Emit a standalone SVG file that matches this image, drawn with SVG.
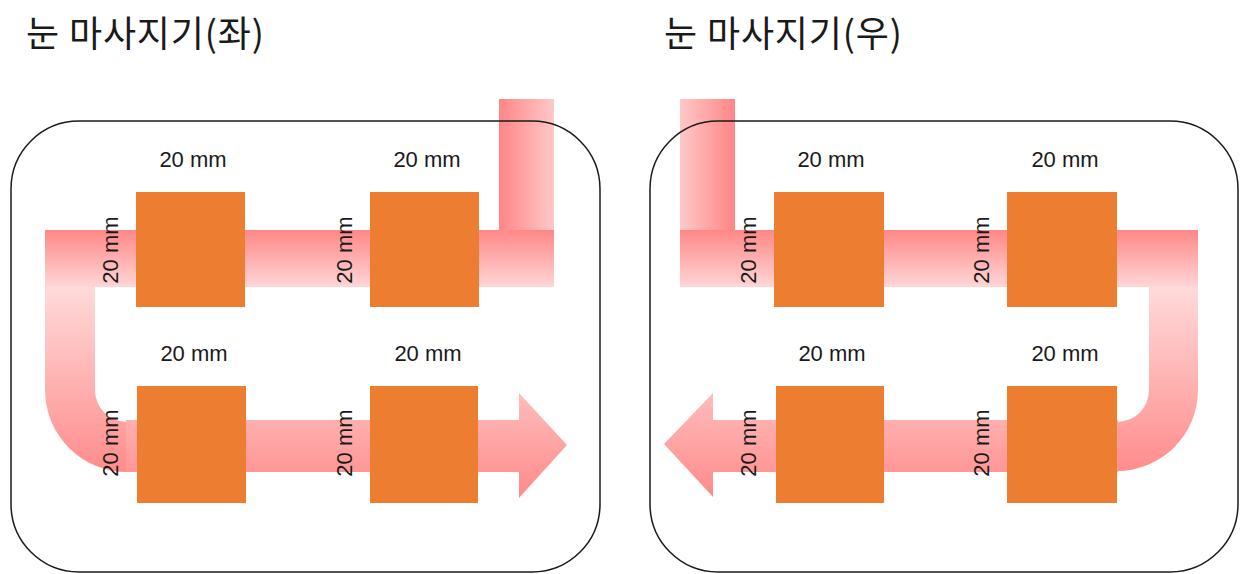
<svg xmlns="http://www.w3.org/2000/svg" width="1241" height="574" viewBox="0 0 1241 574">
  <defs>
    <style>
      .title { font-family: "Noto Sans CJK KR", "Noto Sans", sans-serif; font-size: 36px; fill: #1a1a1a; }
      .lbl { font-family: "Liberation Sans", Arial, sans-serif; font-size: 22px; fill: #1a1a1a; text-anchor: middle; }
      .sq { fill: #ed7d31; }
      .frame { fill: none; stroke: #1a1a1a; stroke-width: 1.5; }
    </style>
    <linearGradient id="gBandTop" x1="0" y1="0" x2="0" y2="1">
      <stop offset="0" stop-color="#ff8787"/>
      <stop offset="1" stop-color="#ffd6d6"/>
    </linearGradient>
    <linearGradient id="gPipeL" x1="0" y1="0" x2="1" y2="0">
      <stop offset="0" stop-color="#ff8585"/>
      <stop offset="1" stop-color="#ffc8c8"/>
    </linearGradient>
    <linearGradient id="gPipeR" x1="0" y1="0" x2="1" y2="0">
      <stop offset="0" stop-color="#ffc8c8"/>
      <stop offset="1" stop-color="#ff8585"/>
    </linearGradient>
    <linearGradient id="gBend" gradientUnits="userSpaceOnUse" x1="0" y1="287" x2="0" y2="472">
      <stop offset="0" stop-color="#ffdada"/>
      <stop offset="1" stop-color="#ff8c8c"/>
    </linearGradient>
    <linearGradient id="gBottom" gradientUnits="userSpaceOnUse" x1="0" y1="393" x2="0" y2="498">
      <stop offset="0" stop-color="#ffbcbc"/>
      <stop offset="1" stop-color="#ff8a8a"/>
    </linearGradient>
  </defs>
  <rect x="0" y="0" width="1241" height="574" fill="#ffffff"/>

  <text class="title" x="26" y="47" textLength="238" lengthAdjust="spacing">눈 마사지기(좌)</text>
  <text class="title" x="664" y="47" textLength="238" lengthAdjust="spacing">눈 마사지기(우)</text>

  <g id="connectors">
    <!-- left panel flow -->
    <rect x="499" y="99" width="55" height="131" fill="url(#gPipeL)"/>
    <rect x="45" y="230" width="509" height="57" fill="url(#gBandTop)"/>
    <path d="M45,287 H95 V390 A32,32 0 0 0 127,422 H140 V472 H127 A82,82 0 0 1 45,390 Z" fill="url(#gBend)"/>
    <path d="M126,420 H519 V393 L567,445 L519,498 V472 H126 Z" fill="url(#gBottom)"/>
    <!-- right panel flow -->
    <rect x="680" y="99" width="55" height="131" fill="url(#gPipeR)"/>
    <rect x="680" y="230" width="518" height="57" fill="url(#gBandTop)"/>
    <path d="M1149,287 H1198 V390 A81,81 0 0 1 1117,471 H1105 V422 H1117 A32,32 0 0 0 1149,390 Z" fill="url(#gBend)"/>
    <path d="M1118,420 H713 V393 L664,444 L713,497 V472 H1118 Z" fill="url(#gBottom)"/>
  </g>

  <g id="frame-left"><rect class="frame" x="11" y="121" width="589" height="451" rx="68" ry="68"/></g>
  <g id="frame-right"><rect class="frame" x="650" y="121" width="588" height="451" rx="68" ry="68"/></g>

  <g id="L1">
    <rect class="sq" x="136" y="192" width="109" height="115"/>
    <text class="lbl" x="193" y="167">20 mm</text>
    <text class="lbl" transform="translate(118,250) rotate(-90)">20 mm</text>
  </g>
  <g id="L2">
    <rect class="sq" x="370" y="192" width="109" height="115"/>
    <text class="lbl" x="427" y="167">20 mm</text>
    <text class="lbl" transform="translate(352,250) rotate(-90)">20 mm</text>
  </g>
  <g id="L3">
    <rect class="sq" x="137" y="386" width="109" height="117"/>
    <text class="lbl" x="194" y="361">20 mm</text>
    <text class="lbl" transform="translate(118,443) rotate(-90)">20 mm</text>
  </g>
  <g id="L4">
    <rect class="sq" x="370" y="386" width="108" height="117"/>
    <text class="lbl" x="428" y="361">20 mm</text>
    <text class="lbl" transform="translate(352,443) rotate(-90)">20 mm</text>
  </g>

  <g id="R1">
    <rect class="sq" x="774" y="192" width="110" height="115"/>
    <text class="lbl" x="831" y="167">20 mm</text>
    <text class="lbl" transform="translate(756,250) rotate(-90)">20 mm</text>
  </g>
  <g id="R2">
    <rect class="sq" x="1007" y="192" width="110" height="115"/>
    <text class="lbl" x="1065" y="167">20 mm</text>
    <text class="lbl" transform="translate(989,250) rotate(-90)">20 mm</text>
  </g>
  <g id="R3">
    <rect class="sq" x="776" y="386" width="108" height="117"/>
    <text class="lbl" x="832" y="361">20 mm</text>
    <text class="lbl" transform="translate(756,443) rotate(-90)">20 mm</text>
  </g>
  <g id="R4">
    <rect class="sq" x="1007" y="386" width="110" height="117"/>
    <text class="lbl" x="1065" y="361">20 mm</text>
    <text class="lbl" transform="translate(989,443) rotate(-90)">20 mm</text>
  </g>
</svg>
